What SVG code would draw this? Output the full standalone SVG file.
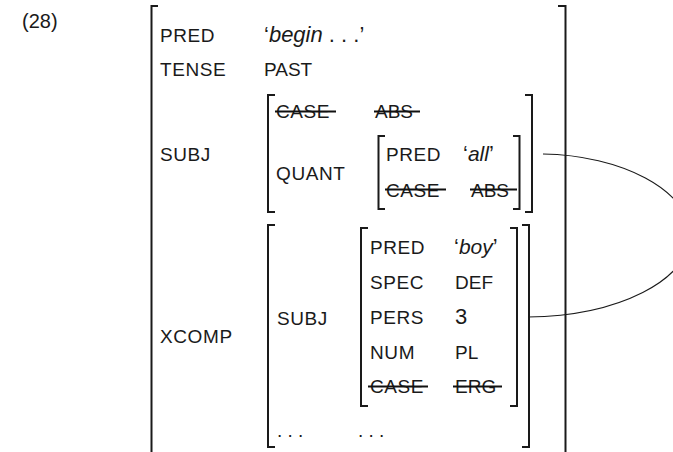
<svg xmlns="http://www.w3.org/2000/svg" width="673" height="452" viewBox="0 0 673 452">
<style>
.l{font-family:"Liberation Sans",Arial,sans-serif;font-size:19px;letter-spacing:0.6px;fill:#1a1a1a}
.v{font-family:"Liberation Sans",Arial,sans-serif;font-size:19px;fill:#1a1a1a}
.it{font-style:italic;font-size:21px}
.big{font-size:22px}
.br{fill:none;stroke:#1a1a1a;stroke-width:2}
.st{stroke:#111;stroke-width:2}
.c{fill:none;stroke:#1a1a1a;stroke-width:1.1}
</style>
<rect width="673" height="452" fill="#fff"/>
<text x="22" y="28" class="v" style="font-size:20px">(28)</text>
<g id="f-outer">
<path class="br" d="M158,6 H151.5 V460"/>
<path class="br" d="M558,6 H565.5 V460"/>
<text x="160" y="42" class="l">PRED</text>
<text x="264" y="42" class="v big">‘<tspan class="it" style="font-size:22px">begin</tspan> . . .’</text>
<text x="160" y="76" class="l">TENSE</text>
<text x="264" y="76" class="v">PAST</text>
<text x="160" y="161" class="l">SUBJ</text>
<text x="160" y="343" class="l">XCOMP</text>
</g>
<g id="f-subj">
<path class="br" d="M275,95 H268 V212 H275"/>
<path class="br" d="M525,95 H532 V212 H525"/>
<text x="276" y="118" class="l">CASE</text>
<line class="st" x1="275" y1="111.5" x2="336" y2="111.5"/>
<text x="375" y="118" class="v">ABS</text>
<line class="st" x1="374" y1="111.5" x2="420" y2="111.5"/>
<text x="276" y="180" class="l">QUANT</text>
</g>
<g id="f-quant">
<path class="br" d="M385,136 H378.5 V209 H385"/>
<path class="br" d="M513,136 H519.5 V209 H513"/>
<text x="386" y="161" class="l">PRED</text>
<text x="463" y="161" class="v big">‘<tspan class="it">all</tspan>’</text>
<text x="386" y="196.5" class="l">CASE</text>
<line class="st" x1="385" y1="189.5" x2="446" y2="189.5"/>
<text x="471" y="196.5" class="v">ABS</text>
<line class="st" x1="470" y1="189.5" x2="517" y2="189.5"/>
</g>
<g id="f-xcomp">
<path class="br" d="M275,225 H268 V447 H275"/>
<path class="br" d="M522,225 H529 V447 H522"/>
<text x="277" y="325" class="l">SUBJ</text>
<text x="277" y="437" class="v">. . .</text>
<text x="358" y="437" class="v">. . .</text>
</g>
<g id="f-xcomp-subj">
<path class="br" d="M368,228 H361 V406 H368"/>
<path class="br" d="M510,228 H517 V406 H510"/>
<text x="370" y="254" class="l">PRED</text>
<text x="454" y="254" class="v big">‘<tspan class="it">boy</tspan>’</text>
<text x="370" y="289" class="l">SPEC</text>
<text x="455" y="289" class="v">DEF</text>
<text x="370" y="324" class="l">PERS</text>
<text x="455" y="324" class="v big">3</text>
<text x="370" y="359" class="l">NUM</text>
<text x="455" y="359" class="v">PL</text>
<text x="370" y="393" class="l">CASE</text>
<line class="st" x1="368" y1="386.5" x2="428" y2="386.5"/>
<text x="455" y="393" class="v">ERG</text>
<line class="st" x1="453" y1="386.5" x2="502" y2="386.5"/>
</g>
<g id="connectors">
<path class="c" d="M543,154 C620,155 690,190 690,235 C690,280 618,316 528,317"/>
</g>
</svg>
